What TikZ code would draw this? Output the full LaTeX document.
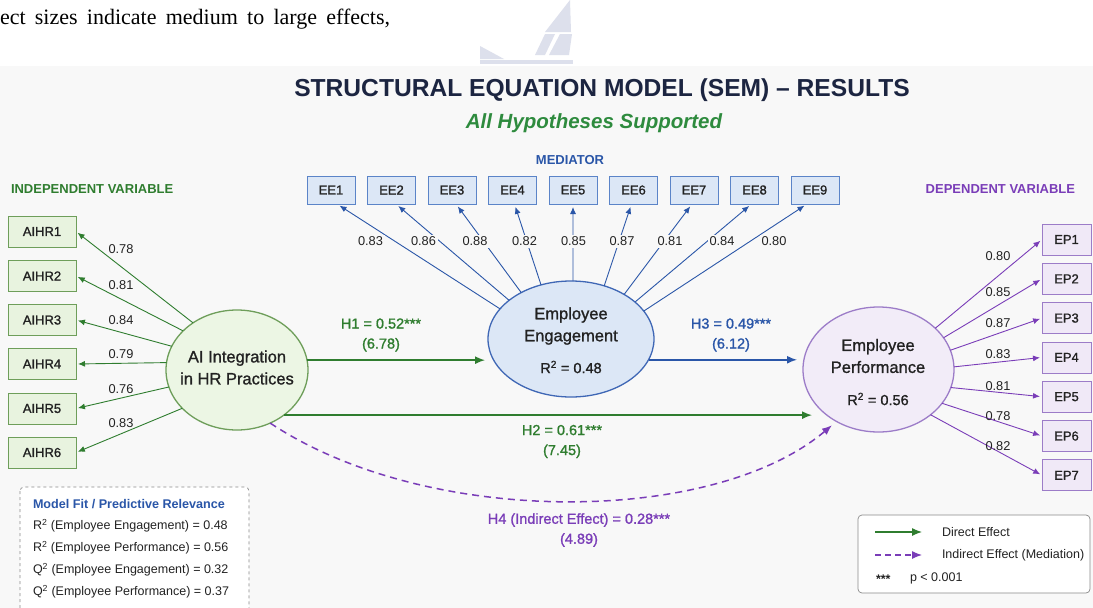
\documentclass[tikz,border=0pt]{standalone}
\usepackage{fontspec}
\setmainfont{Liberation Sans}
\newfontfamily\medium{Liberation Sans}[FakeBold=1.2]
\newfontfamily\leadfont{Liberation Serif}
\usetikzlibrary{arrows.meta,shapes.geometric}

\definecolor{titlenavy}{HTML}{1C2541}
\definecolor{subgreen}{HTML}{2E8B3E}
\definecolor{ivgreen}{HTML}{2F7D2F}
\definecolor{ivfill}{HTML}{E8F3DF}
\definecolor{ivedge}{HTML}{6E9E5A}
\definecolor{ivlatfill}{HTML}{ECF6E4}
\definecolor{mvblue}{HTML}{2A56A8}
\definecolor{mvfill}{HTML}{DCE7F6}
\definecolor{mvedge}{HTML}{5B84C8}
\definecolor{mvlatedge}{HTML}{3F67B5}
\definecolor{dvpurple}{HTML}{7A3DB8}
\definecolor{dvfill}{HTML}{F0E9F7}
\definecolor{dvedge}{HTML}{9C7CC8}
\definecolor{dvlatfill}{HTML}{F2ECF8}
\definecolor{inktext}{HTML}{222222}
\definecolor{pagebg}{HTML}{F8F8F8}
\definecolor{logogray}{HTML}{DDE0EC}
\definecolor{framegray}{HTML}{8A8A8A}

\begin{document}
\begin{tikzpicture}[x=1pt,y=-1pt]
\tikzstyle{every node}+=[inner sep=0pt, outer sep=0pt, text=inktext]
\tikzstyle{header}=[font=\bfseries\fontsize{13}{13}\selectfont]
\tikzstyle{indicator}=[draw, line width=0.8pt, font=\medium\fontsize{13}{13}\selectfont]
\tikzstyle{indbox}=[indicator, draw=ivedge, fill=ivfill, minimum width=68pt, minimum height=31pt]
\tikzstyle{medbox}=[indicator, draw=mvedge, fill=mvfill, minimum width=48pt, minimum height=28pt]
\tikzstyle{depbox}=[indicator, draw=dvedge, fill=dvfill, minimum width=49pt, minimum height=31pt]
\tikzstyle{latent}=[ellipse, line width=1.3pt]
\tikzstyle{latname}=[align=center, font=\medium\fontsize{16.5}{22}\selectfont]
\tikzstyle{rsq}=[font=\medium\fontsize{14.5}{14.5}\selectfont]
\tikzstyle{loading}=[font=\fontsize{12.8}{12.8}\selectfont]
\tikzstyle{load}=[-{Latex[length=7pt,width=6pt]}, line width=0.9pt]
\tikzstyle{direct}=[-{Latex[length=10pt,width=8pt]}, line width=1.5pt]
\tikzstyle{indirect}=[-{Latex[length=10pt,width=8pt]}, line width=1.5pt, dvpurple, dash pattern=on 7pt off 5pt]
\tikzstyle{pathlabel}=[align=center, font=\medium\fontsize{14.5}{20}\selectfont]
\tikzstyle{small}=[anchor=west, font=\fontsize{12.5}{12.5}\selectfont]

\clip (0,0) rectangle (1093,608);
\fill[white] (0,0) rectangle (1093,608);
\fill[pagebg] (0,66) rectangle (1093,608);

\fill[logogray] (570,0) -- (545,32) -- (571,32) -- cycle;
\fill[logogray] (535,55) -- (545,34) -- (555,34) -- (545,55) -- cycle;
\fill[logogray] (549,55) -- (560,34) -- (572,34) -- (569,55) -- cycle;
\fill[logogray] (480,46) -- (504,59) -- (480,59) -- cycle;
\fill[logogray] (480,60) rectangle (573,64);

\node[anchor=base west, font=\leadfont\fontsize{22}{22}\selectfont, text=black] (lead) at (0,24)
  {\hbox to 390pt{ect\hfil\ sizes\hfil\ indicate\hfil\ medium\hfil\ to\hfil\ large\hfil\ effects,}};

\node[font=\bfseries\fontsize{24.6}{24.6}\selectfont, text=titlenavy] (title) at (602,90) {STRUCTURAL EQUATION MODEL (SEM) -- RESULTS};
\node[font=\bfseries\itshape\fontsize{20.5}{20.5}\selectfont, text=subgreen] (subtitle) at (594,123) {All Hypotheses Supported};

\node[header, text=ivgreen, anchor=west] (indhead) at (11,189) {INDEPENDENT VARIABLE};
\node[header, text=mvblue] (medhead) at (570,160) {MEDIATOR};
\node[header, text=dvpurple, anchor=east] (dephead) at (1075,189) {DEPENDENT VARIABLE};

\node[latent, draw=ivedge, fill=ivlatfill, minimum width=142pt, minimum height=120pt] (ai) at (237,370) {};
\node[latname] (ainame) at (237,367.5) {AI Integration\\in HR Practices};
\node[latent, draw=mvlatedge, fill=mvfill, minimum width=166pt, minimum height=116pt] (ee) at (571,339) {};
\node[latname] (eename) at (571,326) {Employee\\Engagement};
\node[rsq] (eersq) at (571,367) {R\textsuperscript{2} = 0.48};
\node[latent, draw=dvedge, fill=dvlatfill, minimum width=151pt, minimum height=125pt] (ep) at (878.5,369.5) {};
\node[latname] (epname) at (878,356) {Employee\\Performance};
\node[rsq] (eprsq) at (878,399) {R\textsuperscript{2} = 0.56};

\foreach \i/\y in {1/231.5,2/276,3/320,4/364,5/408.5,6/452.5}
  \node[indbox] (aihr\i) at (42,\y) {AIHR\i};
\foreach \i in {1,...,9}
  \node[medbox] (ee\i) at ({573+60.5*(\i-5)},190) {EE\i};
\foreach \i in {1,...,7}
  \node[depbox] (ep\i) at (1066.5,{239.5+39.3*(\i-1)}) {EP\i};

\foreach \i/\a/\v/\ly in {1/133/0.78/249,2/144/0.81/285,3/160/0.84/320,4/174/0.79/354,5/194/0.76/389,6/215/0.83/423} {
  \draw[load, ivgreen, shorten >=2pt] (ai.\a) -- (aihr\i.east);
  \node[loading] (lai\i) at (121,\ly) {\v};
}
\foreach \i/\a/\s/\lx/\v in {1/157/6/370.5/0.83,2/148/4.5/423.5/0.86,3/137/4/475/0.88,4/119/2/524.5/0.82,5/88/0/573.5/0.85,6/58/-2/622/0.87,7/40/-2/670/0.81,8/30/-3/722/0.84,9/21/-8/774/0.80} {
  \draw[load, mvblue, shorten >=3pt] (ee.\a) -- ([xshift=\s pt]ee\i.south);
  \node[loading, fill=pagebg, inner sep=2pt] (lee\i) at (\lx,241.5) {\v};
}
\foreach \i/\a/\v/\ly in {1/36/0.80/256,2/26/0.85/292,3/15/0.87/323,4/2/0.83/354,5/346/0.81/386,6/332/0.78/416,7/319/0.82/446} {
  \draw[load, dvpurple, shorten >=2pt] (ep.\a) -- (ep\i.west);
  \node[loading] (lep\i) at (998,\ly) {\v};
}

\draw[direct, ivgreen, shorten >=3pt] (ai.8) -- (ai.8 -| ee.west);
\draw[direct, mvblue, shorten >=6pt] (ee.345) -- (ee.345 -| ep.west);
\draw[direct, ivgreen, shorten >=-9pt] (ai.316) -- (ai.316 -| ep.west);
\draw[indirect, shorten >=6pt] (ai.302) .. controls +(158,105) and +(-123,104) .. (ep.231);

\node[pathlabel, text=ivgreen] (h1) at (381,335) {H1 = 0.52***\\(6.78)};
\node[pathlabel, text=mvblue] (h3) at (731,335) {H3 = 0.49***\\(6.12)};
\node[pathlabel, text=ivgreen] (h2) at (562,441.5) {H2 = 0.61***\\(7.45)};
\node[pathlabel, text=dvpurple] (h4) at (579,530) {H4 (Indirect Effect) = 0.28***\\(4.89)};

\draw[framegray, fill=white, dashed, rounded corners=4pt, line width=0.7pt] (20,487) rectangle (249,630);
\node[small, font=\bfseries\fontsize{12.6}{12.6}\selectfont, text=mvblue] (fithead) at (33,504) {Model Fit / Predictive Relevance};
\node[small] (fit1) at (33,526) {R\textsuperscript{2} (Employee Engagement) = 0.48};
\node[small] (fit2) at (33,548) {R\textsuperscript{2} (Employee Performance) = 0.56};
\node[small] (fit3) at (33,570) {Q\textsuperscript{2} (Employee Engagement) = 0.32};
\node[small] (fit4) at (33,592) {Q\textsuperscript{2} (Employee Performance) = 0.37};

\draw[framegray, fill=white, rounded corners=4pt, line width=0.7pt] (858,515) rectangle (1090,593);
\coordinate (keyd) at (875,532);
\coordinate (keydend) at (922,532);
\coordinate (keyi) at (875,555);
\coordinate (keyiend) at (922,555);
\draw[direct, ivgreen, line width=1.2pt] (keyd) -- (keydend);
\draw[indirect, line width=1.2pt, dash pattern=on 6pt off 4pt] (keyi) -- (keyiend);
\node[small] (keydtext) at (942,532) {Direct Effect};
\node[small] (keyitext) at (942,555) {Indirect Effect (Mediation)};
\node[small, font=\bfseries\fontsize{12.5}{12.5}\selectfont] (keystar) at (876,579) {***};
\node[small] (keyp) at (910,578) {p < 0.001};
\end{tikzpicture}
\end{document}
